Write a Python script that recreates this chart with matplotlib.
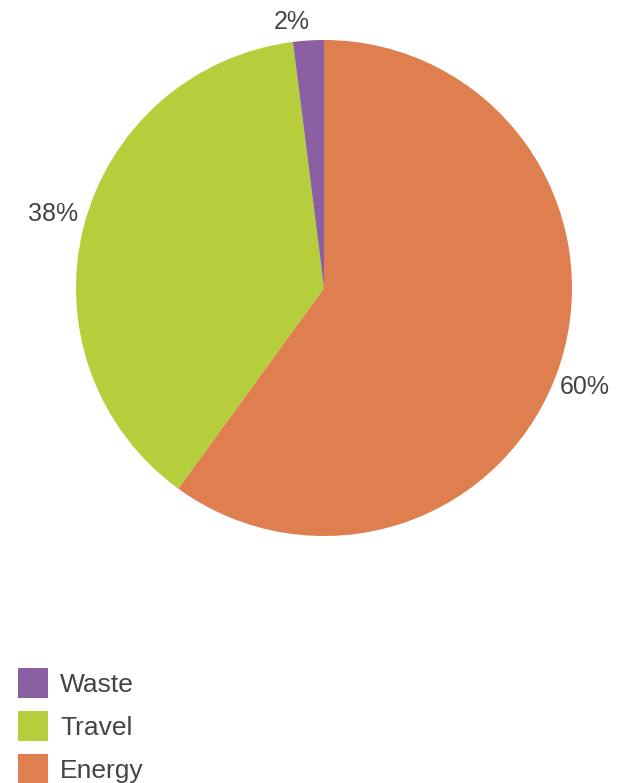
import matplotlib.pyplot as plt
from matplotlib.patches import Patch

plt.rcParams['font.family'] = ['Liberation Sans', 'DejaVu Sans']

categories = ['Energy', 'Travel', 'Waste']
shares = [60, 38, 2]
colors = ['#DF7E4E', '#B6CE3C', '#8A60A2']
legend_order = ['Waste', 'Travel', 'Energy']

W, H = 634, 783
fig = plt.figure(figsize=(W / 100, H / 100), dpi=100)
ax = fig.add_axes([0, 0, 1, 1])

wedges, texts, autotexts = ax.pie(
    shares, colors=colors, startangle=90, counterclock=False,
    center=(324, H - 288), radius=248,
    autopct='%d%%', pctdistance=1.12,
    wedgeprops=dict(linewidth=0), frame=True,
    textprops=dict(fontsize=18, color='#444444'))
ax.axis('off')
ax.set_xlim(0, W)
ax.set_ylim(0, H)
ax.set_aspect('equal')

# small nudges so the labels sit like the original layout (pixels, x right / y down)
nudges = [(-3, 13), (-2, -5), (-15, 11)]
for t, (dx, dy) in zip(autotexts, nudges):
    x, y = t.get_position()
    t.set_position((x + dx, y - dy))

lookup = dict(zip(categories, colors))
handles = [Patch(facecolor=lookup[c], edgecolor='none') for c in legend_order]
leg = ax.legend(handles, legend_order, loc='upper left',
                bbox_to_anchor=(18 / W, 1 - 668 / H), frameon=False,
                borderpad=0, borderaxespad=0,
                handlelength=1.14, handleheight=1.37, handletextpad=0.45,
                labelspacing=0.5, prop=dict(size=19))
for t in leg.get_texts():
    t.set_color('#444444')

fig.savefig('out.png', dpi=100)
